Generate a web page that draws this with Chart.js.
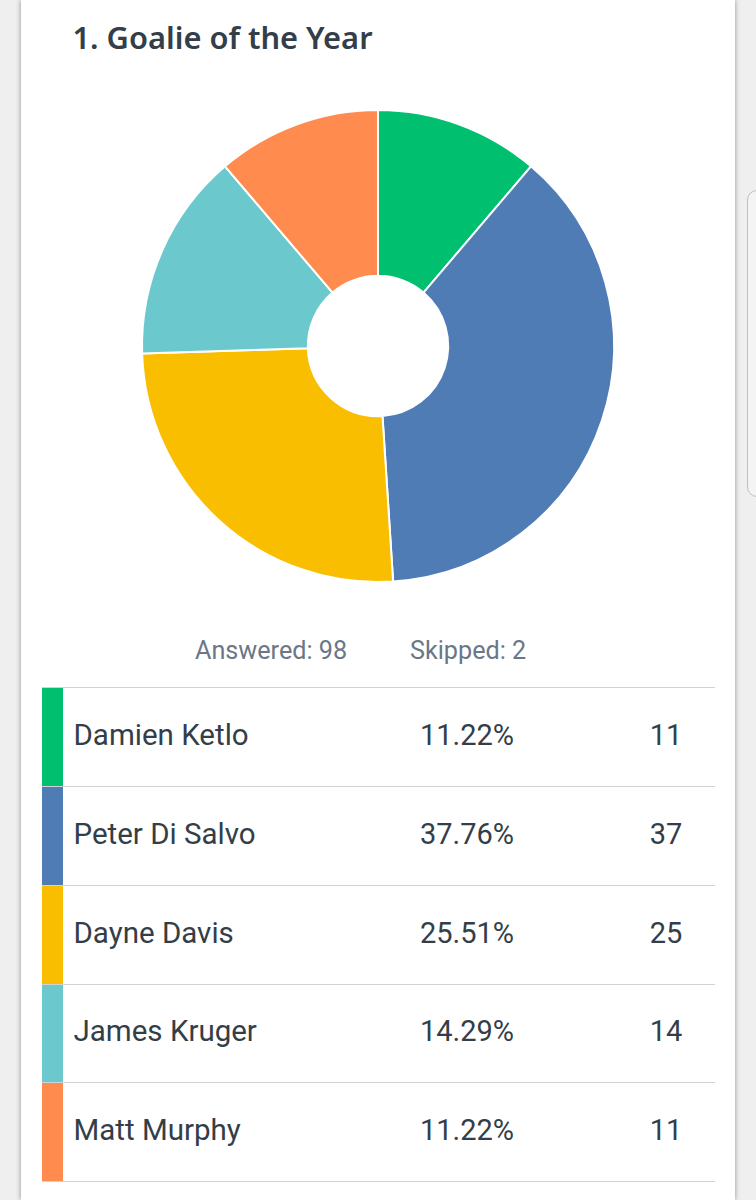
<!DOCTYPE html>
<html><head><meta charset="utf-8">
<script src="https://cdn.jsdelivr.net/npm/chart.js@4/dist/chart.umd.min.js"></script>
<style>
html,body{margin:0;padding:0;width:756px;height:1200px;overflow:hidden;background:#efefef;}
#card{position:absolute;left:21px;top:0;width:714px;height:1200px;background:#fff;box-shadow:0 0 5px rgba(0,0,0,.4);}
#handle{position:absolute;left:747px;top:190px;width:20px;height:307px;border:1.5px solid #bfbfbf;border-radius:12px;background:#f4f4f4;box-sizing:border-box;}
#title{position:absolute;left:72.5px;top:15px;font:600 30.8px "Noto Sans";color:#333e48;white-space:nowrap;line-height:44px;}
#wrap{position:absolute;left:118px;top:86px;width:520px;height:520px;}
.stat{position:absolute;top:632.5px;font:25.2px/36px Roboto;color:#6b7787;white-space:nowrap;}
.line{position:absolute;left:42px;width:673px;height:1.5px;background:#d0d2d3;}
.sw{position:absolute;left:42px;width:21px;}
.t{position:absolute;font:400 29.5px/40px Roboto;color:#333e48;white-space:nowrap;}
.n{font-size:29px;}
</style></head><body>
<div id="card"></div><div id="handle"></div>
<div id="title">1. Goalie of the Year</div>
<div id="wrap"><canvas id="c" width="520" height="520"></canvas></div>
<div class="stat" style="left:195px">Answered: 98</div>
<div class="stat" style="left:410px">Skipped: 2</div>
<div id="table"></div>
<script>
const names=["Damien Ketlo","Peter Di Salvo","Dayne Davis","James Kruger","Matt Murphy"];
const percents=["11.22%","37.76%","25.51%","14.29%","11.22%"];
const counts=[11,37,25,14,11];
const colors=["#00bf6f","#507cb6","#f9be00","#6bc8cd","#ff8b4f"];

new Chart(document.getElementById('c'),{
  type:'doughnut',
  data:{labels:names,datasets:[{data:counts,backgroundColor:colors,borderColor:'#fff',borderWidth:2}]},
  options:{responsive:false,animation:false,radius:236,cutout:77,
    layout:{padding:0},
    plugins:{legend:{display:false},tooltip:{enabled:false}}}
});

const tb=document.getElementById('table');
const tops=[687,786,885,984,1082,1181];
let h='';
names.forEach((n,i)=>{
  const y=tops[i],ht=tops[i+1]-y,mid=y+ht/2;
  h+=`<div class="sw" style="top:${y}px;height:${ht}px;background:${colors[i]}"></div>`;
  h+=`<div class="t" style="left:73.5px;top:${mid-22}px">${n}</div>`;
  h+=`<div class="t n" style="left:367px;width:200px;text-align:center;top:${mid-22}px">${percents[i]}</div>`;
  h+=`<div class="t n" style="left:566px;width:200px;text-align:center;top:${mid-22}px">${counts[i]}</div>`;
});
tops.forEach(y=>{h+=`<div class="line" style="top:${y-0.5}px"></div>`;});
tb.innerHTML=h;
</script>
</body></html>
